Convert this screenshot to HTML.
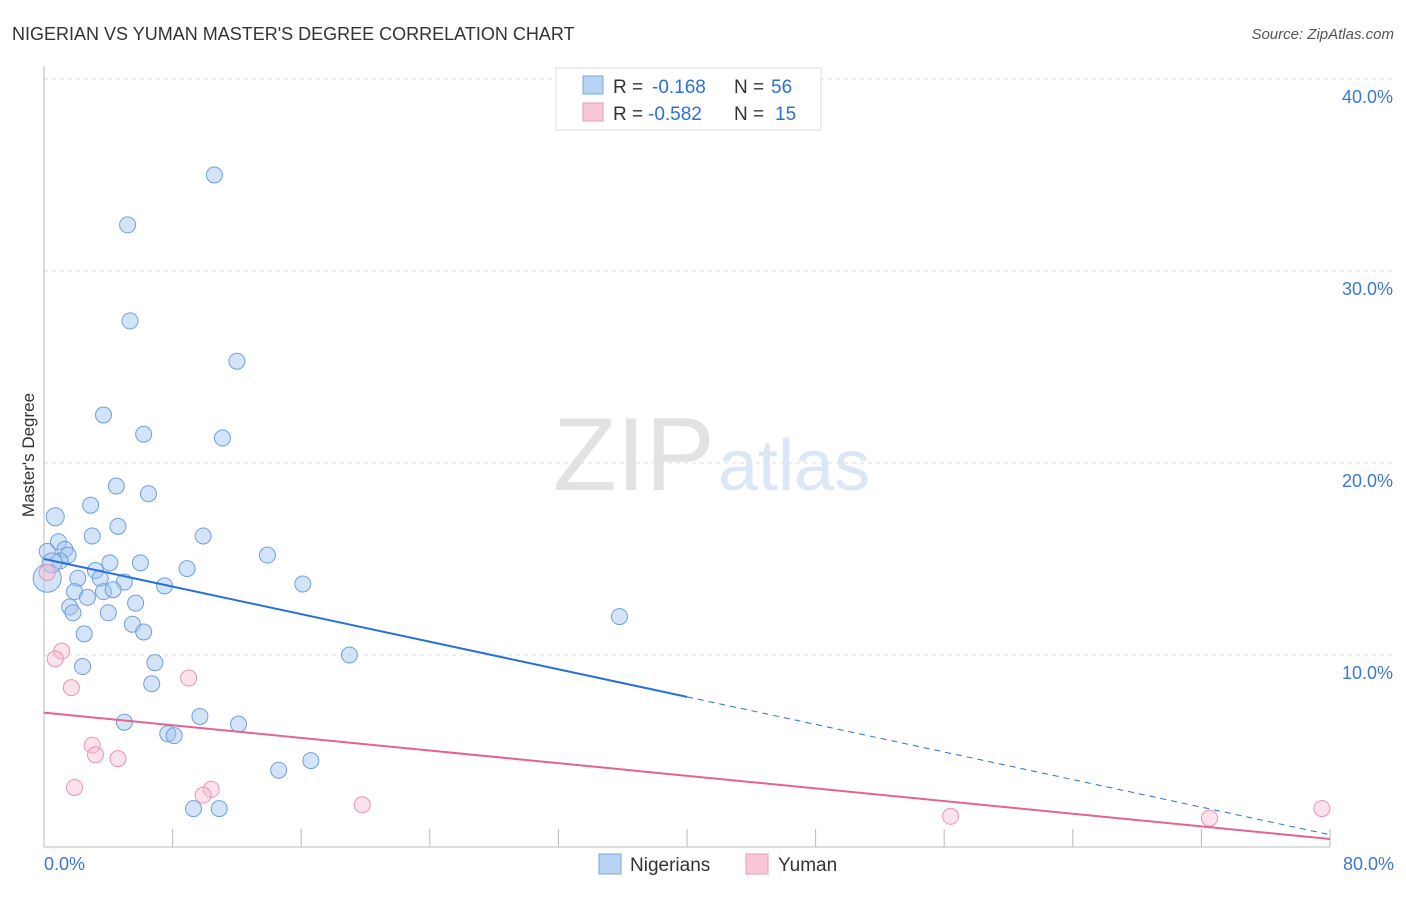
<!DOCTYPE html>
<html><head><meta charset="utf-8"><style>
body{margin:0;background:#fff;font-family:"Liberation Sans",sans-serif;}
svg text{font-family:"Liberation Sans",sans-serif;}
</style></head><body>
<svg id="chart" width="1406" height="892" xmlns="http://www.w3.org/2000/svg">
<text x="12" y="40" font-size="18" fill="#333">NIGERIAN VS YUMAN MASTER'S DEGREE CORRELATION CHART</text>
<text x="1394" y="39" font-size="15" fill="#555" font-style="italic" text-anchor="end">Source: ZipAtlas.com</text>
<g id="grid"></g>
<text x="553" y="490" font-size="104" fill="#e2e2e2" font-family="Liberation Serif">ZIP</text>
<text x="718" y="490" font-size="72" fill="#dbe7f6">atlas</text>
<g id="points"></g>
<g id="lines"></g>
<text x="34" y="455" font-size="17" fill="#333" transform="rotate(-90 34 455)" text-anchor="middle">Master's Degree</text>
<g>
<rect x="556" y="68" width="265" height="62" fill="#fff" stroke="#ddd"/>
<rect x="583" y="76" width="20" height="18" fill="#b9d3f5" stroke="#7aa6e0"/>
<rect x="583" y="103" width="20" height="18" fill="#f9c8d6" stroke="#ea9ab2"/>
<text x="613" y="93" font-size="19" fill="#333">R =</text>
<text x="652" y="93" font-size="19" fill="#2c6fd6">-0.168</text>
<text x="734" y="93" font-size="19" fill="#333">N =</text>
<text x="771" y="93" font-size="19" fill="#2c6fd6">56</text>
<text x="613" y="120" font-size="19" fill="#333">R =</text>
<text x="648" y="120" font-size="19" fill="#2c6fd6">-0.582</text>
<text x="734" y="120" font-size="19" fill="#333">N =</text>
<text x="775" y="120" font-size="19" fill="#2c6fd6">15</text>
</g>
<g>
<rect x="599" y="854" width="22" height="20" fill="#b9d3f5" stroke="#7aa6e0"/>
<text x="630" y="871" font-size="19" fill="#333">Nigerians</text>
<rect x="746" y="854" width="22" height="20" fill="#f9c8d6" stroke="#ea9ab2"/>
<text x="778" y="871" font-size="19" fill="#333">Yuman</text>
</g>
</svg>
<script>
const xTicks=[0,8,16,24,32,40,48,56,64,72,80];
const yTicks=[10,20,30,40];
const nigeriansX=[10.6,5.2,5.35,12.0,3.7,6.2,11.1,4.5,6.5,2.9,0.7,4.6,3.0,9.9,0.9,1.3,0.2,1.5,1.0,6.0,4.1,3.2,8.9,13.9,2.1,3.5,5.0,7.5,16.1,1.9,2.7,3.7,4.3,5.7,1.6,1.8,4.0,5.5,6.2,2.5,35.8,19.0,6.9,2.4,6.7,9.7,5.0,12.1,7.7,8.1,14.6,16.6,9.3,10.9,0.2,0.5];
const nigeriansY=[35.0,32.4,27.4,25.3,22.5,21.5,21.3,18.8,18.4,17.8,17.2,16.7,16.2,16.2,15.9,15.5,15.4,15.2,14.9,14.8,14.8,14.4,14.5,15.2,14.0,14.0,13.8,13.6,13.7,13.3,13.0,13.3,13.4,12.7,12.5,12.2,12.2,11.6,11.2,11.1,12.0,10.0,9.6,9.4,8.5,6.8,6.5,6.4,5.9,5.8,4.0,4.5,2.0,2.0,14.0,14.8];
const nigeriansR=[8,8,8,8,8,8,8,8,8,8,9,8,8,8,8,8,8,8,8,8,8,8,8,8,8,8,8,8,8,8,8,8,8,8,8,8,8,8,8,8,8,8,8,8,8,8,8,8,8,8,8,8,8,8,14,10];
const yumanX=[0.2,1.1,0.7,1.7,9.0,3.0,3.2,4.6,1.9,10.4,9.9,19.8,56.4,72.5,79.5];
const yumanY=[14.3,10.2,9.8,8.3,8.8,5.3,4.8,4.6,3.1,3.0,2.7,2.2,1.6,1.5,2.0];
const blueLine={intercept:15.0,slope:-0.1795,solidEnd:40,end:80};
const pinkLine={intercept:7.0,slope:-0.0823,end:80};
const X0=44,X1=1330,Y0=847,Y1=79;
const sx=v=>X0+(v/80)*(X1-X0);
const sy=v=>Y0-(v/40)*(Y0-Y1);
const NS="http://www.w3.org/2000/svg";
function mk(tag,attrs,parent){const e=document.createElementNS(NS,tag);for(const k in attrs)e.setAttribute(k,attrs[k]);parent.appendChild(e);return e;}
const grid=document.getElementById('grid');
yTicks.forEach(t=>{
 const l=mk('line',{x1:X0,x2:1394,y1:sy(t),y2:sy(t),stroke:'#ddd','stroke-dasharray':'4,4'},grid);
 
 
 const tx=mk('text',{x:1393,y:sy(t)+24,'font-size':18,fill:'#3a78d4','text-anchor':'end'},grid);
 tx.textContent=t.toFixed(1)+'%';
 
 
});
const ax=mk('line',{x1:X0,x2:X0,y1:66,y2:Y0,stroke:'#bbb'},grid);


const bx=mk('line',{x1:X0,x2:X1,y1:Y0,y2:Y0,stroke:'#bbb'},grid);


xTicks.forEach((t,i)=>{
 if(i>0){const tk=mk('line',{x1:sx(t),x2:sx(t),y1:829,y2:Y0,stroke:'#bbb'},grid);
 
 }
});
[[0,'start',44],[80,'end',1394]].forEach(([t,a,x])=>{
 const tx=mk('text',{x:x,y:870,'font-size':18,fill:'#3a78d4','text-anchor':a},grid);
 tx.textContent=t.toFixed(1)+'%';
 
 
});
const pts=document.getElementById('points');
nigeriansX.forEach((v,i)=>{
 const c=mk('circle',{cx:sx(v),cy:sy(nigeriansY[i]),r:nigeriansR[i],fill:'rgba(160,195,240,0.45)',stroke:'#6f9fdc','stroke-width':1},pts);
 
 
});
yumanX.forEach((v,i)=>{
 const c=mk('circle',{cx:sx(v),cy:sy(yumanY[i]),r:8,fill:'rgba(248,190,208,0.45)',stroke:'#e995ae','stroke-width':1},pts);
 
 
});
const ln=document.getElementById('lines');
const bl=v=>blueLine.intercept+blueLine.slope*v;
const l1=mk('line',{x1:sx(0),y1:sy(bl(0)),x2:sx(blueLine.solidEnd),y2:sy(bl(blueLine.solidEnd)),stroke:'#2a6fd6','stroke-width':2},ln);


const l2=mk('line',{x1:sx(blueLine.solidEnd),y1:sy(bl(blueLine.solidEnd)),x2:sx(blueLine.end),y2:sy(bl(blueLine.end)),stroke:'#2a6fd6','stroke-width':1,'stroke-dasharray':'6,5'},ln);


const pl=v=>pinkLine.intercept+pinkLine.slope*v;
const l3=mk('line',{x1:sx(0),y1:sy(pl(0)),x2:sx(pinkLine.end),y2:sy(pl(pinkLine.end)),stroke:'#e4648f','stroke-width':2},ln);


</script>
</body></html>
